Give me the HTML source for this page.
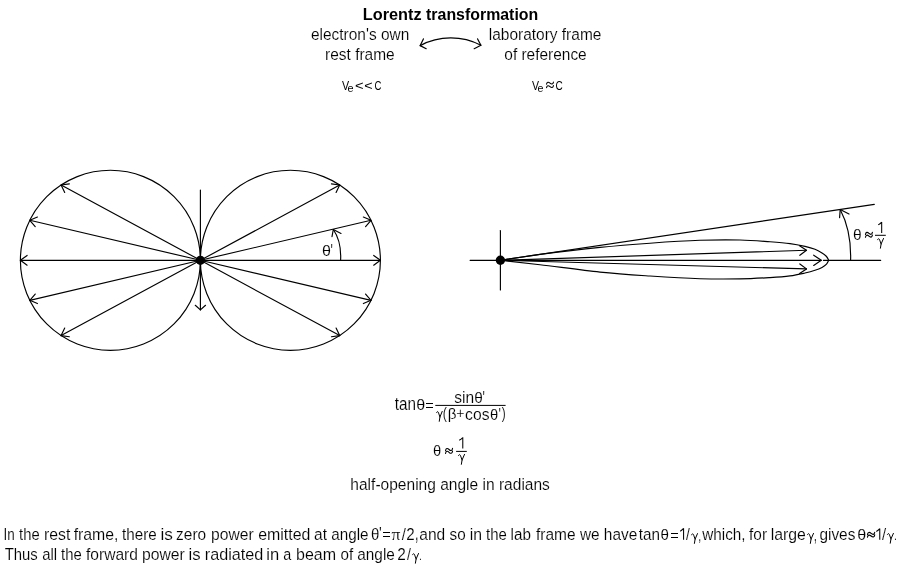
<!DOCTYPE html>
<html><head><meta charset="utf-8"><title>Lorentz transformation</title>
<style>html,body{margin:0;padding:0;background:#fff;}svg{display:block;will-change:transform;}</style></head>
<body><svg width="900" height="570" viewBox="0 0 900 570">
<rect width="900" height="570" fill="#fff"/>
<g stroke="#000" fill="none" stroke-linecap="round" stroke-linejoin="round">
<circle cx="110.4" cy="260.3" r="90" stroke-width="1.15" fill="none"/>
<circle cx="290.4" cy="260.3" r="90" stroke-width="1.15" fill="none"/>
<line x1="200.40" y1="260.30" x2="20.40" y2="260.30" stroke-width="1.15"/>
<path d="M27.11,255.42 L20.40,260.30 L27.11,265.18" stroke-width="1.15" fill="none"/>
<line x1="200.40" y1="260.30" x2="380.40" y2="260.30" stroke-width="1.15"/>
<path d="M373.69,265.18 L380.40,260.30 L373.69,255.42" stroke-width="1.15" fill="none"/>
<line x1="200.40" y1="260.30" x2="29.79" y2="220.28" stroke-width="1.15"/>
<path d="M37.44,217.07 L29.79,220.28 L35.21,226.57" stroke-width="1.15" fill="none"/>
<line x1="200.40" y1="260.30" x2="371.01" y2="220.28" stroke-width="1.15"/>
<path d="M365.59,226.57 L371.01,220.28 L363.36,217.07" stroke-width="1.15" fill="none"/>
<line x1="200.40" y1="260.30" x2="29.79" y2="300.32" stroke-width="1.15"/>
<path d="M35.21,294.03 L29.79,300.32 L37.44,303.53" stroke-width="1.15" fill="none"/>
<line x1="200.40" y1="260.30" x2="371.01" y2="300.32" stroke-width="1.15"/>
<path d="M363.36,303.53 L371.01,300.32 L365.59,294.03" stroke-width="1.15" fill="none"/>
<line x1="200.40" y1="260.30" x2="61.12" y2="184.99" stroke-width="1.15"/>
<path d="M69.35,183.89 L61.12,184.99 L64.71,192.48" stroke-width="1.15" fill="none"/>
<line x1="200.40" y1="260.30" x2="339.68" y2="184.99" stroke-width="1.15"/>
<path d="M336.09,192.48 L339.68,184.99 L331.45,183.89" stroke-width="1.15" fill="none"/>
<line x1="200.40" y1="260.30" x2="61.12" y2="335.61" stroke-width="1.15"/>
<path d="M64.71,328.12 L61.12,335.61 L69.35,336.71" stroke-width="1.15" fill="none"/>
<line x1="200.40" y1="260.30" x2="339.68" y2="335.61" stroke-width="1.15"/>
<path d="M331.45,336.71 L339.68,335.61 L336.09,328.12" stroke-width="1.15" fill="none"/>
<line x1="200.40" y1="190.00" x2="200.40" y2="309.90" stroke-width="1.15"/>
<path d="M195.27,305.28 L200.40,309.90 L205.53,305.28" stroke-width="1.15" fill="none"/>
<circle cx="200.4" cy="260.3" r="4.6" fill="#000" stroke="none"/>
<path d="M340.6,260.3 C341.2,249 338.5,237 333.3,229.5" stroke-width="1.15" fill="none"/>
<path d="M332.0,236.6 L333.3,229.5 L341.0,233.4" stroke-width="1.15" fill="none"/>
<line x1="470.10" y1="260.30" x2="500.40" y2="260.30" stroke-width="1.15"/>
<line x1="823.40" y1="260.30" x2="880.70" y2="260.30" stroke-width="1.15"/>
<line x1="500.40" y1="230.50" x2="500.40" y2="290.00" stroke-width="1.15"/>
<line x1="500.40" y1="260.30" x2="874.30" y2="204.40" stroke-width="1.15"/>
<path d="M500.40,260.30 C507.00,259.32 523.40,256.55 540.00,254.40 C556.60,252.25 581.67,249.27 600.00,247.40 C618.33,245.53 633.33,244.38 650.00,243.20 C666.67,242.02 685.00,240.83 700.00,240.30 C715.00,239.77 728.33,239.75 740.00,240.00 C751.67,240.25 761.67,241.20 770.00,241.80 C778.33,242.40 784.17,242.83 790.00,243.60 C795.83,244.37 800.83,245.45 805.00,246.40 C809.17,247.35 812.17,248.20 815.00,249.30 C817.83,250.40 820.08,251.80 822.00,253.00 C823.92,254.20 825.38,255.28 826.50,256.50 C827.62,257.72 828.33,259.67 828.70,260.30" stroke-width="1.15" fill="none"/>
<path d="M828.70,260.30 C828.33,260.95 827.62,263.02 826.50,264.20 C825.38,265.38 823.92,266.38 822.00,267.40 C820.08,268.42 817.83,269.37 815.00,270.30 C812.17,271.23 809.17,272.07 805.00,273.00 C800.83,273.93 795.83,275.13 790.00,275.90 C784.17,276.67 778.33,277.10 770.00,277.60 C761.67,278.10 751.67,278.72 740.00,278.90 C728.33,279.08 715.00,279.18 700.00,278.70 C685.00,278.22 666.67,277.10 650.00,276.00 C633.33,274.90 618.33,273.98 600.00,272.10 C581.67,270.22 556.60,266.67 540.00,264.70 C523.40,262.73 507.00,261.03 500.40,260.30" stroke-width="1.15" fill="none"/>
<line x1="500.40" y1="260.30" x2="806.50" y2="250.30" stroke-width="1.15"/>
<path d="M799.86,255.28 L806.50,250.30 L799.55,245.76" stroke-width="1.15" fill="none"/>
<line x1="500.40" y1="260.30" x2="821.30" y2="260.30" stroke-width="1.15"/>
<path d="M813.67,265.44 L821.30,260.30 L813.67,255.16" stroke-width="1.15" fill="none"/>
<line x1="500.40" y1="260.30" x2="806.50" y2="268.90" stroke-width="1.15"/>
<path d="M799.57,273.47 L806.50,268.90 L799.84,263.95" stroke-width="1.15" fill="none"/>
<circle cx="500.4" cy="260.3" r="4.7" fill="#000" stroke="none"/>
<path d="M850.6,260.3 C851.2,240 847,222.5 840.2,209.6" stroke-width="1.15" fill="none"/>
<path d="M839.6,217.6 L840.2,209.6 L849,214.1" stroke-width="1.15" fill="none"/>
<path d="M420.2,45.6 A65.2,65.2 0 0 1 480.9,45.3" stroke-width="1.2" fill="none"/>
<path d="M423.4,38.9 L420.2,45.6 L426.2,48.7" stroke-width="1.2" fill="none"/>
<path d="M477.6,38.9 L480.9,45.3 L474.2,48.7" stroke-width="1.2" fill="none"/>
<path d="M546.55,84.15 C546.89,81.85 548.48,81.85 550.00,83.15 C551.52,84.45 553.11,84.45 553.45,82.15 M546.55,87.65 C546.89,85.35 548.48,85.35 550.00,86.65 C551.52,87.95 553.11,87.95 553.45,85.65 " stroke-width="1.1"/>
<path d="M865.48,234.47 C865.82,231.94 867.42,231.94 868.95,233.37 C870.48,234.80 872.08,234.80 872.42,232.27 M865.48,237.23 C865.82,234.70 867.42,234.70 868.95,236.13 C870.48,237.56 872.08,237.56 872.42,235.03 " stroke-width="1.15"/>
<path d="M881.68,232.90 L881.68,221.90 M881.68,222.10 C880.48,223.50 879.20,224.40 878.20,224.90" stroke-width="1.05" stroke-linecap="butt"/>
<rect x="875" y="234.8" width="10.8" height="1" fill="#000" stroke="none"/>
<path d="M877.60,239.71 C877.93,238.50 879.17,238.00 879.72,240.14 L881.10,243.99 M883.50,238.50 L881.10,243.99 L880.41,248.20" stroke-width="1.0"/>
<rect x="426" y="403" width="7" height="1.0" fill="#000" stroke="none"/>
<rect x="426" y="407" width="7" height="1.0" fill="#000" stroke="none"/>
<rect x="435.3" y="404.9" width="70.3" height="1" fill="#000" stroke="none"/>
<path d="M436.60,412.64 C436.89,411.40 438.08,410.90 438.61,413.08 L439.93,417.00 M442.20,411.40 L439.93,417.00 L439.27,421.30" stroke-width="1.0"/>
<path d="M445.55,450.65 C445.90,448.00 447.51,448.00 449.05,449.50 C450.59,451.00 452.20,451.00 452.55,448.35 M445.55,453.45 C445.90,450.81 447.51,450.81 449.05,452.30 C450.59,453.80 452.20,453.80 452.55,451.15 " stroke-width="1.1"/>
<path d="M462.78,448.60 L462.78,437.30 M462.78,437.50 C461.58,438.90 460.20,439.80 459.20,440.30" stroke-width="1.05" stroke-linecap="butt"/>
<rect x="456.1" y="450.9" width="10.7" height="1" fill="#000" stroke="none"/>
<path d="M458.50,455.64 C458.84,454.40 460.10,453.90 460.66,456.08 L462.06,460.00 M464.50,454.40 L462.06,460.00 L461.36,464.30" stroke-width="1.0"/>
<rect x="383" y="532" width="7" height="1.0" fill="#000" stroke="none"/>
<rect x="383" y="536" width="7" height="1.0" fill="#000" stroke="none"/>
<rect x="671" y="533" width="7" height="1.0" fill="#000" stroke="none"/>
<rect x="671" y="537" width="7" height="1.0" fill="#000" stroke="none"/>
<path d="M683.58,539.80 L683.58,528.20 M683.58,528.40 C682.38,529.80 681.20,530.70 680.20,531.20" stroke-width="1.05" stroke-linecap="butt"/>
<path d="M691.60,534.83 C691.93,533.60 693.17,533.10 693.72,535.26 L695.10,539.15 M697.50,533.60 L695.10,539.15 L694.41,543.40" stroke-width="1.0"/>
<path d="M807.50,534.66 C807.84,533.40 809.10,532.90 809.66,535.10 L811.06,539.06 M813.50,533.40 L811.06,539.06 L810.36,543.40" stroke-width="1.0"/>
<path d="M867.48,534.48 C867.84,531.95 869.50,531.95 871.10,533.38 C872.69,534.81 874.36,534.81 874.72,532.28 M867.48,537.12 C867.84,534.60 869.50,534.60 871.10,536.02 C872.69,537.45 874.36,537.45 874.72,534.92 " stroke-width="1.15"/>
<path d="M879.77,539.80 L879.77,528.50 M879.77,528.70 C878.57,530.10 877.30,531.00 876.30,531.50" stroke-width="1.05" stroke-linecap="butt"/>
<path d="M887.40,534.63 C887.74,533.40 889.00,532.90 889.56,535.06 L890.96,538.95 M893.40,533.40 L890.96,538.95 L890.26,543.20" stroke-width="1.0"/>
<path d="M412.60,554.71 C412.93,553.50 414.17,553.00 414.72,555.14 L416.10,558.99 M418.50,553.50 L416.10,558.99 L415.41,563.20" stroke-width="1.0"/>
</g>
<g font-family="Liberation Sans, sans-serif" fill="#000" stroke="#fff" stroke-width="0.15">
<text transform="translate(362.82,20.00) scale(0.9421,1.0000)" font-size="17.3" font-weight="bold" stroke="none">Lorentz</text>
<text transform="translate(426.07,20.00) scale(0.9193,1.0000)" font-size="17.3" font-weight="bold" stroke="none">transformation</text>
<text transform="translate(311.01,39.90) scale(0.9200,1.0000)" font-size="16.8">electron's own</text>
<text transform="translate(325.08,59.90) scale(0.9220,1.0000)" font-size="16.8">rest frame</text>
<text transform="translate(488.75,39.90) scale(0.9214,1.0000)" font-size="16.8">laboratory frame</text>
<text transform="translate(504.31,59.90) scale(0.9201,1.0000)" font-size="16.8">of reference</text>
<text transform="translate(342.00,89.90) scale(0.8235,1.0000)" font-size="13" stroke="none">V</text>
<text transform="translate(347.53,91.60) scale(0.9455,0.9760)" font-size="11.5" stroke="none">e</text>
<text transform="translate(355.05,89.85) scale(1.1360,1.0462)" font-size="13" stroke="none">&lt;</text>
<text transform="translate(364.27,89.85) scale(1.1040,1.0462)" font-size="13" stroke="none">&lt;</text>
<text transform="translate(374.45,89.80) scale(0.7375,0.9889)" font-size="13" stroke="none">C</text>
<text transform="translate(532.00,89.60) scale(0.8118,0.9667)" font-size="13" stroke="none">V</text>
<text transform="translate(537.54,91.80) scale(0.9273,0.9920)" font-size="11.5" stroke="none">e</text>
<text transform="translate(555.42,89.80) scale(0.7750,0.9889)" font-size="13" stroke="none">C</text>
<text transform="translate(321.94,255.80) scale(0.9600,0.9083)" font-size="16.8">θ</text>
<text transform="translate(330.55,257.04) scale(0.7333,1.1429)" font-size="16.8">'</text>
<text transform="translate(853.12,239.80) scale(0.9267,0.9000)" font-size="16.8">θ</text>
<text transform="translate(394.67,409.90) scale(0.9091,1.0977)" font-size="16.8">tan</text>
<text transform="translate(416.14,409.90) scale(0.9600,0.9167)" font-size="16.8">θ</text>
<text transform="translate(454.34,402.70) scale(0.9266,0.9833)" font-size="16.8">sin</text>
<text transform="translate(474.18,402.70) scale(0.9200,0.9083)" font-size="16.8">θ</text>
<text transform="translate(482.55,404.24) scale(0.7333,1.1429)" font-size="16.8">'</text>
<text transform="translate(442.87,418.53) scale(0.7333,0.9355)" font-size="16.8">(</text>
<text transform="translate(447.67,418.73) scale(0.9032,0.8774)" font-size="16.8">β</text>
<text transform="translate(456.27,418.37) scale(0.8364,0.8485)" font-size="16.8">+</text>
<text transform="translate(465.10,419.80) scale(0.9333,1.0171)" font-size="16.8">cos</text>
<text transform="translate(490.12,419.80) scale(0.8800,0.9083)" font-size="16.8">θ</text>
<text transform="translate(498.45,419.70) scale(0.7333,1.0000)" font-size="16.8">'</text>
<text transform="translate(501.82,418.58) scale(0.7059,0.9484)" font-size="16.8">)</text>
<text transform="translate(433.12,455.60) scale(0.8800,0.8750)" font-size="16.8">θ</text>
<text transform="translate(350.34,489.90) scale(0.9258,1.0000)" font-size="16.8">half-opening angle in radians</text>
<text transform="translate(3.60,540.00) scale(0.8000,1.0000)" font-size="16.8">In</text>
<text transform="translate(19.08,540.00) scale(0.8809,1.0000)" font-size="16.8">the</text>
<text transform="translate(43.96,540.00) scale(0.9421,1.0000)" font-size="16.8">rest</text>
<text transform="translate(73.66,540.00) scale(0.9421,1.0000)" font-size="16.8">frame,</text>
<text transform="translate(122.07,540.00) scale(0.9047,1.0000)" font-size="16.8">there</text>
<text transform="translate(160.52,540.00) scale(1.0244,1.0000)" font-size="16.8">is</text>
<text transform="translate(176.11,540.00) scale(0.9216,1.0000)" font-size="16.8">zero</text>
<text transform="translate(211.07,540.00) scale(0.9303,1.0000)" font-size="16.8">power</text>
<text transform="translate(258.19,540.00) scale(0.9484,1.0000)" font-size="16.8">emitted</text>
<text transform="translate(314.11,540.00) scale(0.9231,1.0000)" font-size="16.8">at</text>
<text transform="translate(331.32,540.00) scale(0.9063,1.0000)" font-size="16.8">angle</text>
<text transform="translate(371.11,539.80) scale(0.8933,0.9583)" font-size="16.8">θ</text>
<text transform="translate(379.05,538.84) scale(0.8667,0.9429)" font-size="16.8">'</text>
<text transform="translate(391.54,539.55) scale(1.0500,1.0125)" font-size="16.8" font-family="Liberation Serif">π</text>
<text transform="translate(401.80,539.66) scale(0.8842,0.9714)" font-size="16.8">/</text>
<text transform="translate(406.32,539.80) scale(0.9032,1.0261)" font-size="16.8">2</text>
<text transform="translate(414.89,539.63) scale(0.7429,1.3333)" font-size="16.8">,</text>
<text transform="translate(419.31,540.00) scale(0.9257,1.0000)" font-size="16.8">and</text>
<text transform="translate(449.55,540.00) scale(0.9091,1.0000)" font-size="16.8">so</text>
<text transform="translate(469.73,540.00) scale(0.9395,1.0000)" font-size="16.8">in</text>
<text transform="translate(485.98,540.00) scale(0.8899,1.0000)" font-size="16.8">the</text>
<text transform="translate(510.57,540.00) scale(0.9073,1.0000)" font-size="16.8">lab</text>
<text transform="translate(536.07,540.00) scale(0.9214,1.0000)" font-size="16.8">frame</text>
<text transform="translate(580.00,540.00) scale(0.9157,1.0000)" font-size="16.8">we</text>
<text transform="translate(603.85,540.00) scale(0.9188,1.0000)" font-size="16.8">have</text>
<text transform="translate(638.67,540.00) scale(0.9091,1.0000)" font-size="16.8">tan</text>
<text transform="translate(660.39,539.90) scale(0.9067,0.9167)" font-size="16.8">θ</text>
<text transform="translate(686.00,539.56) scale(0.8211,0.9714)" font-size="16.8">/</text>
<text transform="translate(698.26,540.87) scale(0.6286,1.0133)" font-size="16.8">,</text>
<text transform="translate(702.30,540.00) scale(0.9109,1.0000)" font-size="16.8">which,</text>
<text transform="translate(749.07,540.00) scale(0.9158,1.0000)" font-size="16.8">for</text>
<text transform="translate(770.72,540.00) scale(0.9418,1.0000)" font-size="16.8">large</text>
<text transform="translate(813.87,540.77) scale(0.6857,1.0667)" font-size="16.8">,</text>
<text transform="translate(819.41,540.00) scale(0.9166,1.0000)" font-size="16.8">gives</text>
<text transform="translate(857.14,539.80) scale(0.9600,0.8750)" font-size="16.8">θ</text>
<text transform="translate(881.90,539.56) scale(0.8842,0.9469)" font-size="16.8">/</text>
<text transform="translate(894.06,540.10) scale(0.6286,0.8000)" font-size="16.8">.</text>
<text transform="translate(4.66,560.00) scale(0.8855,1.0000)" font-size="16.8">Thus</text>
<text transform="translate(42.13,560.00) scale(0.8867,1.0000)" font-size="16.8">all</text>
<text transform="translate(61.08,560.00) scale(0.8854,1.0000)" font-size="16.8">the</text>
<text transform="translate(85.97,560.00) scale(0.9279,1.0000)" font-size="16.8">forward</text>
<text transform="translate(142.07,560.00) scale(0.9348,1.0000)" font-size="16.8">power</text>
<text transform="translate(188.56,560.00) scale(0.9951,1.0000)" font-size="16.8">is</text>
<text transform="translate(204.73,560.00) scale(0.9658,1.0000)" font-size="16.8">radiated</text>
<text transform="translate(266.37,560.00) scale(0.9860,1.0000)" font-size="16.8">in</text>
<text transform="translate(283.16,560.00) scale(0.8588,1.0000)" font-size="16.8">a</text>
<text transform="translate(296.05,560.00) scale(0.9550,1.0000)" font-size="16.8">beam</text>
<text transform="translate(340.42,560.00) scale(0.9057,1.0000)" font-size="16.8">of</text>
<text transform="translate(357.31,560.00) scale(0.9139,1.0000)" font-size="16.8">angle</text>
<text transform="translate(397.21,559.90) scale(0.9161,1.0261)" font-size="16.8">2</text>
<text transform="translate(407.00,559.66) scale(0.8421,0.9633)" font-size="16.8">/</text>
<text transform="translate(418.96,559.90) scale(0.6286,0.6286)" font-size="16.8">.</text>
</g>
</svg></body></html>
